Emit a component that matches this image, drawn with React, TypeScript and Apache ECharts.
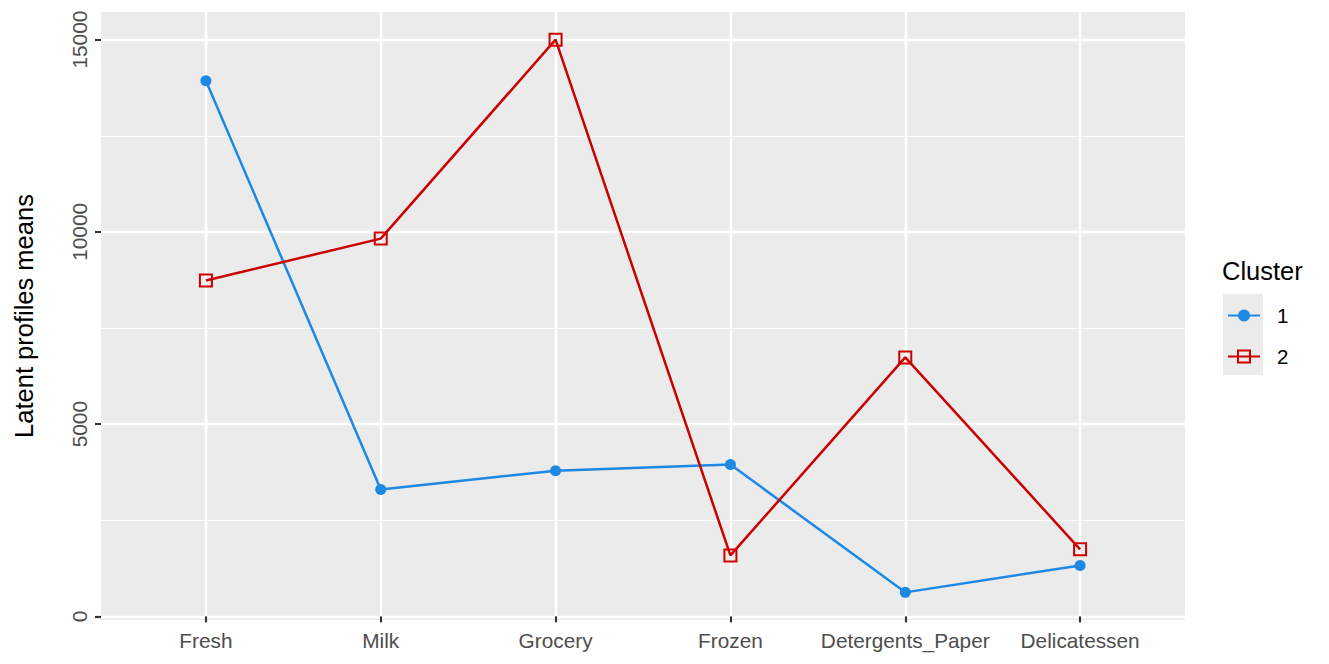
import React, { useEffect, useRef } from "react";
import * as echarts from "echarts";

const categories = ["Fresh", "Milk", "Grocery", "Frozen", "Detergents_Paper", "Delicatessen"];
const cluster1 = [13930, 3300, 3790, 3950, 625, 1325];
const cluster2 = [8735, 9825, 15000, 1585, 6735, 1745];
const yTicks = [0, 5000, 10000, 15000];
const yMinor = [2500, 7500, 12500];
const seriesNames = ["1", "2"];

const allVals = [...cluster1, ...cluster2];
const dMin = Math.min(...allVals);
const dMax = Math.max(...allVals);
const yMin = dMin - 0.05 * (dMax - dMin);
const yMax = dMax + 0.05 * (dMax - dMin);
const xPositions = categories.map((_, i) => i + 1);

const FONT = "'Liberation Sans', Arial, Helvetica, sans-serif";

export default function App() {
  const ref = useRef<HTMLDivElement>(null);
  useEffect(() => {
    document.body.style.margin = "0";
    const chart = echarts.init(ref.current!, null, { renderer: "svg" });
    chart.setOption({
      animation: false,
      backgroundColor: "#FFFFFF",
      textStyle: { fontFamily: FONT },
      grid: {
        left: 101,
        right: 144,
        top: 12,
        bottom: 44,
        show: true,
        backgroundColor: "#EBEBEB",
        borderWidth: 0,
      },
      legend: {
        orient: "vertical",
        left: 1222,
        top: 300,
        itemWidth: 32,
        itemHeight: 15,
        itemGap: 20,
        data: seriesNames,
        textStyle: { fontSize: 20.5, color: "#000000", fontFamily: FONT, padding: [0, 0, 0, 12] },
      },
      graphic: [
        {
          type: "rect",
          left: 1223,
          top: 294,
          z: -1,
          shape: { width: 40, height: 81 },
          style: { fill: "#EBEBEB" },
        },
        {
          type: "text",
          left: 1222,
          top: 258,
          style: { text: "Cluster", fontSize: 25.5, fill: "#000000", fontFamily: FONT },
        },
      ],
      xAxis: {
        type: "value",
        min: 0.4,
        max: 6.6,
        axisLine: { show: false },
        axisTick: {
          show: true,
          length: 6,
          customValues: xPositions,
          lineStyle: { color: "#333333", width: 2.2 },
        },
        axisLabel: {
          customValues: xPositions,
          formatter: (v: number) => categories[Math.round(v) - 1] ?? "",
          fontSize: 20.8,
          color: "#4D4D4D",
          margin: 10,
          fontFamily: FONT,
        },
        splitLine: { show: true, lineStyle: { color: "#FFFFFF", width: 2.4 } },
      },
      yAxis: [
        {
          type: "value",
          min: yMin,
          max: yMax,
          name: "Latent profiles means",
          nameLocation: "middle",
          nameGap: 64,
          nameTextStyle: { fontSize: 25.5, color: "#000000", fontFamily: FONT },
          axisLine: { show: false },
          axisTick: {
            show: true,
            length: 6,
            customValues: yTicks,
            lineStyle: { color: "#333333", width: 2.2 },
          },
          axisLabel: {
            customValues: yTicks,
            formatter: (v: number) => String(Math.round(v)),
            rotate: 90,
            align: "center",
            verticalAlign: "bottom",
            fontSize: 20.8,
            color: "#4D4D4D",
            margin: 11,
            fontFamily: FONT,
          },
          splitLine: { show: true, lineStyle: { color: "#FFFFFF", width: 2.4 } },
        },
        {
          type: "value",
          min: yMin,
          max: yMax,
          position: "left",
          axisLine: { show: false },
          axisTick: { show: false, customValues: yMinor },
          axisLabel: { show: false, customValues: yMinor },
          splitLine: { show: true, lineStyle: { color: "#FFFFFF", width: 1.2 } },
        },
      ],
      series: [
        {
          name: seriesNames[0],
          type: "line",
          data: cluster1.map((v, i) => [xPositions[i], v]),
          symbol: "circle",
          symbolSize: 11,
          itemStyle: { color: "#1E88E5" },
          lineStyle: { color: "#1E88E5", width: 2.5 },
          z: 3,
        },
        {
          name: seriesNames[1],
          type: "line",
          data: cluster2.map((v, i) => [xPositions[i], v]),
          symbol: "rect",
          symbolSize: 12,
          itemStyle: { color: "rgba(0,0,0,0)", borderColor: "#CC0000", borderWidth: 2 },
          lineStyle: { color: "#CC0000", width: 2.5 },
          z: 3,
        },
      ],
    });
    return () => chart.dispose();
  }, []);
  return <div ref={ref} style={{ width: 1329, height: 664 }} />;
}
